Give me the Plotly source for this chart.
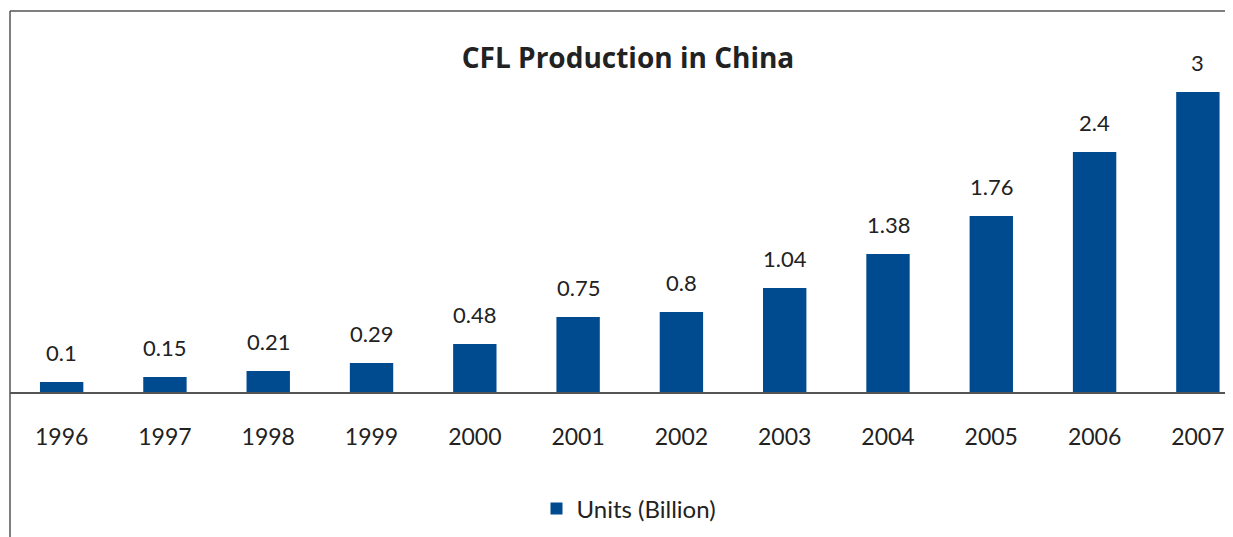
import plotly.graph_objects as go

years = ["1996", "1997", "1998", "1999", "2000", "2001", "2002", "2003", "2004", "2005", "2006", "2007"]
units = [0.1, 0.15, 0.21, 0.29, 0.48, 0.75, 0.8, 1.04, 1.38, 1.76, 2.4, 3]
labels = ["0.1", "0.15", "0.21", "0.29", "0.48", "0.75", "0.8", "1.04", "1.38", "1.76", "2.4", "3"]

bar_color = "#004A8F"
frame_color = "#555555"
text_color = "#222222"
font_family = "Lato, 'Open Sans', sans-serif"

# page body has an 8px margin, so the figure is a bit smaller than the window
W, H = 1225, 529

fig = go.Figure()
fig.add_trace(go.Bar(
    x=list(range(len(years))), y=units, name="Units (Billion)",
    marker=dict(color=bar_color, line=dict(width=0)),
))

# value labels sit well above each bar
for i, (v, t) in enumerate(zip(units, labels)):
    fig.add_annotation(x=i, y=v, text=t, showarrow=False, yanchor="middle", yshift=30,
                       font=dict(size=22, color=text_color, family=font_family))

fig.update_layout(
    width=W, height=H,
    margin=dict(l=2, r=0, t=3, b=145),
    paper_bgcolor="white", plot_bgcolor="white",
    bargap=0.58,
    title=dict(text="<b>CFL Production in China</b>", x=(628 - 8) / W, xanchor="center",
               y=1 - 50 / H, yanchor="middle",
               font=dict(size=28, color=text_color, family="'Open Sans', sans-serif")),
    showlegend=True,
    legend=dict(orientation="h", x=(628 - 8) / W, xanchor="center", y=-0.307, yanchor="middle",
                font=dict(size=24, color=text_color, family=font_family)),
    font=dict(family=font_family),
)

fig.update_xaxes(
    tickmode="array", tickvals=list(range(len(years))), ticktext=years,
    range=[-0.5, 11.34], showgrid=False, zeroline=False,
    showline=True, linecolor=frame_color, linewidth=1.5,
    ticks="", ticklabelstandoff=24,
    tickfont=dict(size=23, color=text_color, family=font_family),
)
fig.update_yaxes(range=[0, 3.81], showgrid=False, zeroline=False, showticklabels=False,
                 showline=False)

# frame lines: left and top
fig.add_shape(type="line", xref="paper", yref="paper", x0=0, x1=0, y0=-0.4, y1=1,
              line=dict(color=frame_color, width=1.5))
fig.add_shape(type="line", xref="paper", yref="paper", x0=0, x1=1.01, y0=1, y1=1,
              line=dict(color=frame_color, width=1.5))

fig.write_html("out.html")
